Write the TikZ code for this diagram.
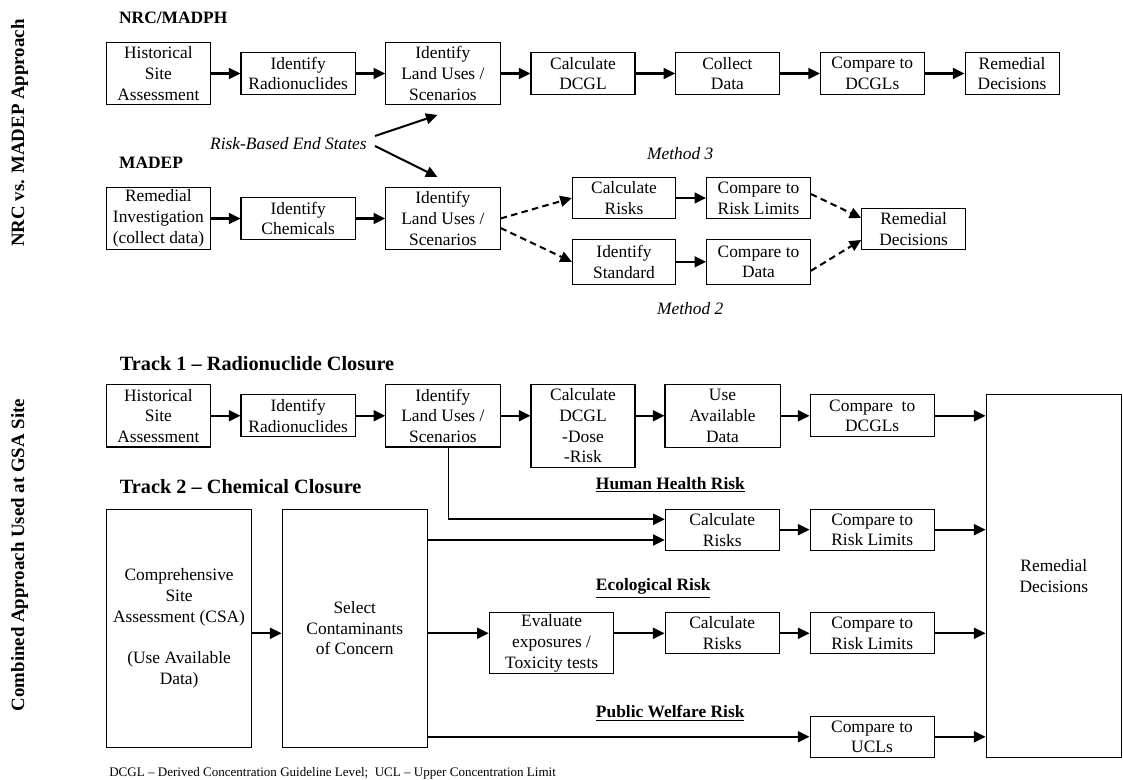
\documentclass[tikz,border=0pt]{standalone}
\usepackage{fontspec}
\setmainfont{Liberation Serif}
\usetikzlibrary{arrows.meta}

\def\u{0.69pt}

\tikzset{
box/.style={draw, line width=0.7pt, align=center, inner sep=0pt, font=\fontsize{12}{14.3}\selectfont},
sz/.style 2 args={minimum width=#1*\u, minimum height=#2*\u},
arr/.style={line width=1.4pt, -{Triangle[length=8pt,width=7.5pt]}},
darr/.style={arr, dash pattern=on 4.5pt off 3pt},
head/.style={anchor=west, inner sep=0pt, font=\fontsize{12}{14}\selectfont\bfseries},
track/.style={anchor=west, inner sep=0pt, font=\fontsize{14}{16}\selectfont\bfseries},
side/.style={rotate=90, inner sep=0pt, font=\fontsize{13}{15}\selectfont\bfseries},
note/.style={inner sep=0pt, font=\fontsize{12}{14}\selectfont\itshape}
}

\begin{document}
\begin{tikzpicture}[x=\u, y=-\u]
\useasboundingbox (0,0) rectangle (1123,780);

\node[side] (lab1) at (19.6,133) {NRC vs. MADEP Approach};
\node[side] (lab2) at (19.6,555) {Combined Approach Used at GSA Site};

% NRC/MADPH
\node[head] (hnrc) at (118.9,18) {NRC/MADPH};
\node[box, sz={104}{62.4}] (nhsa) at (158.4,73.5) {Historical\\Site\\Assessment};
\node[box, sz={114.4}{42.4}] (nrad) at (298.2,73.5) {Identify\\Radionuclides};
\node[box, sz={114.3}{62.4}] (nland) at (442.9,73.5) {Identify\\Land Uses /\\Scenarios};
\node[box, sz={104}{42.4}] (ndcgl) at (583,73.5) {Calculate\\DCGL};
\node[box, sz={103.4}{42.4}] (ncoll) at (727.4,73.5) {Collect\\Data};
\node[box, sz={103.8}{42.4}] (ncmp) at (872.3,73.5) {Compare to\\DCGLs};
\node[box, sz={94}{42.4}] (nrem) at (1012,73.5) {Remedial\\Decisions};

\foreach \a/\b in {nhsa/nrad,nrad/nland,nland/ndcgl,ndcgl/ncoll,ncoll/ncmp,ncmp/nrem}
{
\draw[arr] (\a.east) -- (\b.west);
}

\node[note, anchor=east] (rbes) at (367,144) {Risk-Based End States};
\coordinate (rbup) at (437.5,115);
\coordinate (rbdn) at (437.5,177);
\draw[arr] ([shift={(8,-8)}]rbes.east) -- (rbup);
\draw[arr] ([shift={(8,2)}]rbes.east) -- (rbdn);

% MADEP
\node[head] (hmad) at (118.9,163) {MADEP};
\node[box, sz={104}{62.4}] (mri) at (158.4,218.5) {Remedial\\Investigation\\(collect data)};
\node[box, sz={114.4}{41.6}] (mchem) at (298.2,218.5) {Identify\\Chemicals};
\node[box, sz={114.3}{62.4}] (mland) at (442.9,218.5) {Identify\\Land Uses /\\Scenarios};
\node[box, sz={103.3}{41.4}] (mcr) at (624,198) {Calculate\\Risks};
\node[box, sz={103.8}{41.4}] (mcrl) at (758.5,198) {Compare to\\Risk Limits};
\node[box, sz={103.3}{45}] (mis) at (624,261.8) {Identify\\Standard};
\node[box, sz={103.8}{45}] (mcd) at (758.5,261.8) {Compare to\\Data};
\node[box, sz={104}{41.4}] (mrem) at (913.7,229) {Remedial\\Decisions};
\node[note] (m3) at (680.2,153.3) {Method 3};
\node[note] (m2) at (690.2,308.3) {Method 2};

\draw[arr] (mri.east) -- (mchem.west);
\draw[arr] (mchem.east) -- (mland.west);
\draw[arr] (mcr.east) -- (mcrl.west);
\draw[arr] (mis.east) -- (mcd.west);
\draw[darr] (mland.east) -- (mcr.west);
\draw[darr] ([shift={(0,9.5)}]mland.east) -- (mis.west);
\draw[darr] ([shift={(0,-4)}]mcrl.east) -- ([shift={(0,-11)}]mrem.west);
\draw[darr] ([shift={(0,9)}]mcd.east) -- ([shift={(0,11)}]mrem.west);

% Track 1
\node[track] (ht1) at (119.6,363.3) {Track 1 -- Radionuclide Closure};
\node[box, sz={104}{62.4}] (thsa) at (158.4,415.8) {Historical\\Site\\Assessment};
\node[box, sz={114.4}{41.7}] (trad) at (298.2,415.8) {Identify\\Radionuclides};
\node[box, sz={114.3}{62.4}] (tland) at (442.9,415.8) {Identify\\Land Uses /\\Scenarios};
\node[box, sz={104}{83}] (tdcgl) at (583,425.8) {Calculate\\DCGL\\-Dose\\-Risk};
\node[box, sz={115}{62.7}] (tuse) at (722.5,415.8) {Use\\Available\\Data};
\node[box, sz={124.3}{41.7}] (tcmp) at (872.2,415.8) {Compare~ to\\DCGLs};
\node[box, sz={135.5}{363.4}] (trem) at (1053.8,576) {Remedial\\Decisions};

\draw[arr] (thsa.east) -- (trad.west);
\draw[arr] (trad.east) -- (tland.west);
\draw[arr] (tland.east) -- (tland.east -| tdcgl.west);
\draw[arr] (tuse.west -| tdcgl.east) -- (tuse.west);
\draw[arr] (tuse.east) -- (tcmp.west);

% Track 2
\node[track] (ht2) at (119.6,486.7) {Track 2 -- Chemical Closure};
\node[box, sz={145.4}{238.3}] (csa) at (179.1,628.2) {Comprehensive\\Site\\Assessment (CSA)\\[14.3pt](Use Available\\Data)};
\node[box, sz={145.5}{238.3}] (scc) at (354.8,628.2) {Select\\Contaminants\\of Concern};

\node[head] (hhh) at (595.7,485) {\underline{Human Health Risk}};
\node[box, sz={114}{41.3}] (hcr) at (722.3,529.7) {Calculate\\Risks};
\node[box, sz={124.3}{41.3}] (hcrl) at (872.2,529.7) {Compare to\\Risk Limits};

\node[head] (heco) at (595.7,588.3) {\underline{Ecological Risk}};
\node[box, sz={124.7}{61.3}] (eev) at (551.6,643.3) {Evaluate\\exposures /\\Toxicity tests};
\node[box, sz={114.3}{41.3}] (ecr) at (722.2,633.3) {Calculate\\Risks};
\node[box, sz={124.3}{41.3}] (ecrl) at (872.2,633.3) {Compare to\\Risk Limits};

\node[head] (hpub) at (595.7,713.3) {\underline{Public Welfare Risk}};
\node[box, sz={124}{41}] (pucl) at (872,736.8) {Compare to\\UCLs};

\coordinate (tl) at ([shift={(5.3,0)}]tland.south);
\coordinate (hh1) at ([shift={(0,-10.4)}]hcr.west);
\coordinate (hh2) at ([shift={(0,10.3)}]hcr.west);
\draw[line width=0.8pt] (tl) -- (tl |- hh1);
\draw[arr] (tl |- hh1) -- (hh1);
\draw[arr] (hh2 -| scc.east) -- (hh2);
\draw[arr] (csa.east |- ecr.west) -- (scc.west |- ecr.west);
\draw[arr] (ecr.west -| scc.east) -- (ecr.west -| eev.west);
\draw[arr] (ecr.west -| eev.east) -- (ecr.west);
\draw[arr] (pucl.west -| scc.east) -- (pucl.west);

\foreach \a/\b in {hcr/hcrl,ecr/ecrl}
{
\draw[arr] (\a.east) -- (\b.west);
}
\foreach \a in {tcmp,hcrl,ecrl,pucl}
{
\draw[arr] (\a.east) -- (\a.east -| trem.west);
}

\node[anchor=west, inner sep=0pt, font=\fontsize{9}{10}\selectfont] (foot) at (109,773.3) {DCGL -- Derived Concentration Guideline Level;\ \ UCL -- Upper Concentration Limit};

\end{tikzpicture}
\end{document}
